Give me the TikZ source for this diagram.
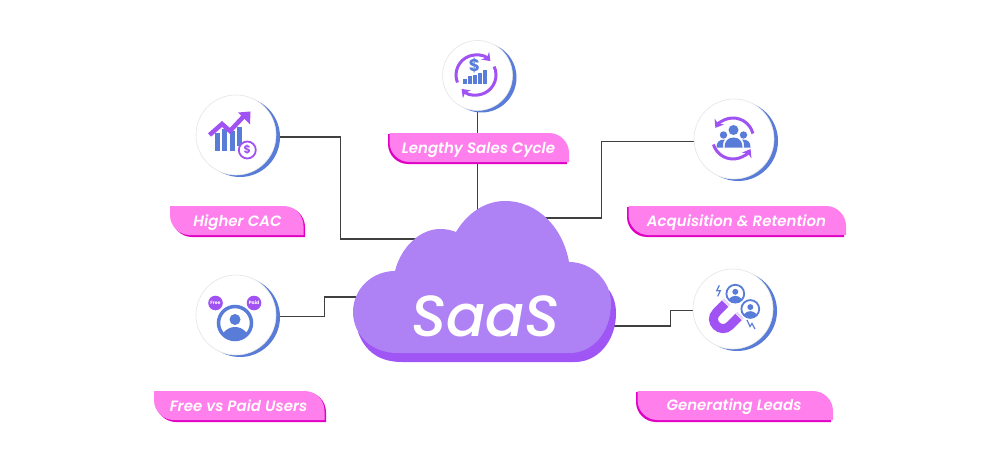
\documentclass[tikz,border=0pt]{standalone}
\usepackage{fontspec}
\setmainfont{Poppins}
\newfontfamily\tagfont{Poppins SemiBold Italic}
\newfontfamily\saasfont{Poppins Medium Italic}
\usetikzlibrary{positioning,backgrounds,shadows,arrows.meta}
\definecolor{cloudtop}{HTML}{AE82F5}
\definecolor{cloudlow}{HTML}{A056F5}
\definecolor{tagpink}{HTML}{FF80EC}
\definecolor{tagdark}{HTML}{E000C4}
\definecolor{iconblue}{HTML}{587CD8}
\definecolor{iconviolet}{HTML}{A052F2}
\tikzset{
badge/.style={circle,fill=white,draw=black!10,line width=.6pt,inner sep=0pt,minimum size=#1,
  general shadow={fill=iconblue,shadow xshift=4pt,shadow yshift=-2pt}},
tagtext/.style={text=white,font=\fontsize{15}{16}\selectfont\tagfont,inner sep=0pt,text height=11pt,text depth=3pt},
link/.style={line width=1.3pt,draw=black!75},
bar/.style={fill=iconblue},
spin/.style={->,>={Stealth[length=7.5pt,width=11pt]},draw=iconviolet,line width=3pt}
}
\newcommand{\tagshape}[4]{(#1,#2) -- (#3-20,#2) .. controls (#3-9,#2) and (#3,#2+9) .. (#3,#2+20) -- (#3,#4) -- (#1+20,#4) .. controls (#1+9,#4) and (#1,#4-9) .. (#1,#4-20) -- cycle}
\newcommand{\tagleft}[4]{\fill[tagdark] \tagshape{#1}{#2+1}{#3-2}{#4};
\fill[tagpink] \tagshape{#1+1.5}{#2}{#3}{#4-2};}
\newcommand{\tagright}[4]{\fill[tagdark] \tagshape{#1+2}{#2+1}{#3}{#4};
\fill[tagpink] \tagshape{#1}{#2}{#3-1.5}{#4-2};}
\newcommand{\personring}[4]{\begin{scope}[shift={(#1,#2)},scale=#3]
\begin{scope}
\clip (0,0) circle (16.5);
\fill[iconblue] (0,20) ellipse (15 and 16);
\end{scope}
\fill[iconblue] (0,-3.5) circle (5.5);
\draw[iconblue,line width=#4] (0,0) circle (16.5);
\end{scope}}
\begin{document}
\begin{tikzpicture}[x=1pt,y=-1pt]
\useasboundingbox (0,0) rectangle (1000,468);
% circles
\node[badge=80pt] (cac) at (236,135) {};
\node[badge=70pt] (cycle) at (477.5,75.5) {};
\node[badge=80pt] (retain) at (734,139) {};
\node[badge=80pt] (users) at (236,315) {};
\node[badge=80pt] (leads) at (733,309) {};
% cloud
\fill[cloudlow] (609,290) .. controls (614,297) and (616,305) .. (616,313) .. controls (616,342) and (597,362) .. (575,362) -- (402,362) .. controls (380,362) and (365,352) .. (358,332) -- cycle;
\fill[cloudtop] (395,271) .. controls (401,247) and (420,229) .. (440,229) .. controls (446,229) and (451,230) .. (456,232) .. controls (468,212) and (486,201) .. (505,201) .. controls (538,201) and (563,228) .. (569,262) .. controls (592,262) and (611,281) .. (611,303) .. controls (611,333) and (592,353) .. (570,353) -- (397,353) .. controls (372,353) and (353,335) .. (353,312) .. controls (353,289) and (372,271) .. (395,271) -- cycle;
\node[text=white,font=\fontsize{58}{58}\selectfont\saasfont,inner sep=0pt] (saas) at (485.5,316) {SaaS};
\coordinate (cloud a) at (416,239);
\coordinate (cloud b) at (477,210);
\coordinate (cloud c) at (545,218);
\coordinate (cloud d) at (358,297);
\coordinate (cloud e) at (611,326);
% labels
\tagright{170}{206}{305}{237}
\node[tagtext] (cac tag) at (237.5,222) {Higher CAC};
\tagleft{388}{133}{569}{164}
\node[tagtext] (cycle tag) at (478.5,149) {Lengthy Sales Cycle};
\tagleft{627}{206}{846}{237}
\node[tagtext] (retain tag) at (736.5,222) {Acquisition \& Retention};
\tagright{154}{391}{326}{422}
\node[tagtext] (users tag) at (238.5,407) {Free vs Paid Users};
\tagleft{636}{391}{833}{422}
\node[tagtext] (leads tag) at (734,406.5) {Generating Leads};
% icon cac
\fill[bar] (215,133) rectangle (220,151);
\fill[bar] (222.3,129) rectangle (227,151);
\fill[bar] (229.5,131) rectangle (234.5,151);
\fill[bar] (237,127) rectangle (241.5,146);
\draw[iconviolet,line width=4.5pt] (209.5,135) -- (222,124) -- (230,131) -- (244,116);
\fill[iconviolet] (238,112.5) -- (250.5,111.5) -- (250,124.5) -- cycle;
\node[circle,draw=iconviolet,fill=white,line width=1.8pt,inner sep=0pt,minimum size=17pt,text=iconviolet,font=\fontsize{11}{11}\selectfont\bfseries] (coin) at (247.3,150) {\$};
% icon cycle
\begin{scope}[shift={(476,75)}]
\draw[spin] (158:20) arc[start angle=158,end angle=316,radius=20];
\draw[spin] (-25:20) arc[start angle=-25,end angle=136,radius=20];
\end{scope}
\fill[bar] (463.3,79) rectangle (466.7,84.5);
\fill[bar] (468.3,76.5) rectangle (471.7,84.5);
\fill[bar] (473.3,75) rectangle (476.7,84.5);
\fill[bar] (478.3,73) rectangle (481.7,84.5);
\fill[bar] (483.3,70) rectangle (487.3,84.5);
\node[text=iconblue,font=\fontsize{17}{17}\selectfont\bfseries,inner sep=0pt] (cycle sign) at (474.5,66) {\$};
% icon retain
\begin{scope}[shift={(733,138.5)}]
\draw[spin] (-14:20.5) arc[start angle=-14,end angle=-149,radius=20.5];
\draw[spin] (163:20.5) arc[start angle=163,end angle=31,radius=20.5];
\end{scope}
\fill[iconblue] (723.5,135) circle (3.7);
\fill[iconblue] (743.5,135) circle (3.7);
\fill[iconblue] (733.5,130) circle (5);
\fill[iconblue] (724.5,147.5) .. controls (724.5,141) and (728,137.5) .. (733.5,137.5) .. controls (739,137.5) and (742.5,141) .. (742.5,147.5) -- cycle;
\fill[iconblue] (716.5,147.5) .. controls (716.5,142) and (719,139.5) .. (725,139.5) .. controls (723,141) and (723,145) .. (723,147.5) -- cycle;
\fill[iconblue] (750.5,147.5) .. controls (750.5,142) and (748,139.5) .. (742,139.5) .. controls (744,141) and (744,145) .. (744,147.5) -- cycle;
% icon users
\node[circle,fill=iconviolet,text=white,inner sep=0pt,minimum size=14.6pt,font=\fontsize{4.6}{5}\selectfont\bfseries] (free) at (215.5,303) {Free};
\node[circle,fill=iconviolet,text=white,inner sep=0pt,minimum size=14.6pt,font=\fontsize{4.6}{5}\selectfont\bfseries] (paid) at (254,303) {Paid};
\personring{235}{323}{1}{3.5pt}
% icon leads
\draw[iconviolet,line width=9pt] (725.2,303.6) -- (716.4,312.4) .. controls (707.5,321.3) and (720.8,334.6) .. (729.7,325.7) -- (738.5,316.9);
\draw[iconviolet!25,line width=9pt] (725.2,303.6) -- (727.2,301.6);
\draw[iconviolet!25,line width=9pt] (738.5,316.9) -- (740.5,314.9);
\personring{735.3}{293.7}{.54}{1.8pt}
\personring{750.3}{309}{.54}{1.8pt}
\draw[iconblue,line width=1.2pt] (719.3,285.3) -- (716.7,290.7) -- (720.3,290.7) -- (717.7,296.3);
\draw[iconblue,line width=1.2pt] (747,320) -- (750,326.5) -- (752,323.5) -- (755,329);
% connectors
\begin{pgfonlayer}{background}
\fill[white] (0,0) rectangle (1000,468);
\draw[link] (cac.-3.5) -- ++(64.5,0) |- (cloud a);
\draw[link] (cycle.south) -- (cycle.south |- cloud b);
\draw[link] (retain.184) -- ++(-92,0) |- (cloud c);
\draw[link] (users.-2) -- ++(48,0) |- (cloud d);
\draw[link] (leads.182) -- ++(-22,0) |- (cloud e);
\end{pgfonlayer}
\end{tikzpicture}
\end{document}
